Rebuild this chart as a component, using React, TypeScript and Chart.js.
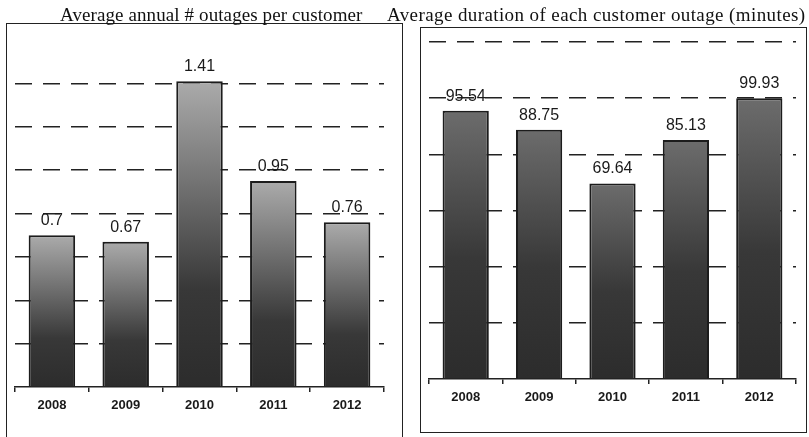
import React, { useEffect, useRef } from "react";
import { Chart, registerables } from "chart.js";

Chart.register(...registerables);

const categories = ["2008", "2009", "2010", "2011", "2012"];
const outagesPerCustomer = [0.7, 0.67, 1.41, 0.95, 0.76];
const outageDuration = [95.54, 88.75, 69.64, 85.13, 99.93];
const leftTitle = "Average annual # outages per customer";
const rightTitle = "Average duration of each customer outage (minutes)";

const valueLabelPlugin = {
  id: "valueLabels",
  afterDatasetsDraw(chart: any) {
    const ctx = chart.ctx;
    const meta = chart.getDatasetMeta(0);
    const data = chart.data.datasets[0].data as number[];
    ctx.save();
    ctx.font = "16px 'Liberation Sans', Arial, sans-serif";
    ctx.fillStyle = "#1a1a1a";
    ctx.textAlign = "center";
    ctx.textBaseline = "alphabetic";
    meta.data.forEach((bar: any, i: number) => {
      ctx.fillText(String(data[i]), bar.x, bar.y - 10);
    });
    ctx.restore();
  },
};

function makeChart(
  canvas: HTMLCanvasElement,
  values: number[],
  max: number,
  step: number,
  pad: { left: number; right: number; top: number },
  axisHeight: number,
  topColor: string,
  midStop: number,
  hideTopGrid: boolean
) {
  return new Chart(canvas, {
    type: "bar",
    data: {
      labels: categories,
      datasets: [
        {
          data: values,
          backgroundColor: (c: any) => {
            const chart = c.chart;
            if (!chart.chartArea) return "#444";
            const y = chart.scales.y;
            const top = y.getPixelForValue(c.raw as number);
            const base = y.getPixelForValue(0);
            const g = chart.ctx.createLinearGradient(0, top, 0, base);
            g.addColorStop(0, topColor);
            g.addColorStop(midStop, "#383838");
            g.addColorStop(1, "#2c2c2c");
            return g;
          },
          borderColor: "#1c1c1c",
          borderWidth: 2,
          borderSkipped: "start",
          barPercentage: 0.63,
          categoryPercentage: 1,
        },
      ],
    },
    options: {
      animation: false,
      responsive: false,
      maintainAspectRatio: false,
      layout: { padding: { left: pad.left, right: pad.right, top: pad.top, bottom: 0 } },
      plugins: {
        legend: { display: false },
        tooltip: { enabled: false },
        title: { display: false },
      },
      scales: {
        x: {
          offset: true,
          afterFit: (s: any) => {
            s.height = axisHeight;
          },
          grid: {
            offset: true,
            drawOnChartArea: false,
            drawTicks: true,
            tickLength: 5,
            color: "#222",
            lineWidth: 1.5,
          },
          border: { display: true, color: "#222", width: 1.5 },
          ticks: {
            color: "#1a1a1a",
            padding: 6,
            font: { family: "'Liberation Sans', Arial, sans-serif", size: 13, weight: "bold" },
          },
        },
        y: {
          min: 0,
          max: max,
          afterFit: (s: any) => {
            s.width = 0;
          },
          ticks: { display: false, stepSize: step },
          grid: {
            drawTicks: false,
            lineWidth: 1.4,
            color: (c: any) => {
              if (c.tick && c.tick.value === 0) return "rgba(0,0,0,0)";
              if (hideTopGrid && c.tick && Math.abs(c.tick.value - max) < 1e-6) return "rgba(0,0,0,0)";
              return "#222";
            },
          },
          border: { display: false, dash: [17, 11] },
        },
      },
    },
    plugins: [valueLabelPlugin],
  } as any);
}

export default function App() {
  const leftRef = useRef<HTMLCanvasElement>(null);
  const rightRef = useRef<HTMLCanvasElement>(null);

  useEffect(() => {
    document.body.style.margin = "0";
    const a = makeChart(leftRef.current!, outagesPerCustomer, 1.6, 0.2, { left: 15, right: 20, top: 40 }, 50, "#ababab", 0.68, true);
    const b = makeChart(rightRef.current!, outageDuration, 120, 20, { left: 24, right: 13, top: 42 }, 58, "#6c6c6c", 0.55, false);
    return () => {
      a.destroy();
      b.destroy();
    };
  }, []);

  const titleStyle: React.CSSProperties = {
    position: "absolute",
    top: 5,
    fontFamily: "'Liberation Serif', 'Times New Roman', serif",
    fontSize: 19,
    lineHeight: "19px",
    color: "#111",
    whiteSpace: "nowrap",
  };

  return (
    <div style={{ position: "relative", width: 809, height: 437, overflow: "hidden", background: "#fff" }}>
      <div style={{ position: "absolute", left: 6, top: 23, width: 395, height: 430, border: "1.5px solid #222" }} />
      <div style={{ position: "absolute", left: 420, top: 27, width: 385, height: 404, border: "1.5px solid #222" }} />
      <canvas ref={leftRef} width={404} height={437} style={{ position: "absolute", left: 0, top: 0, width: 404, height: 437 }} />
      <canvas ref={rightRef} width={404} height={437} style={{ position: "absolute", left: 405, top: 0, width: 404, height: 437 }} />
      <div style={{ ...titleStyle, left: 60, letterSpacing: "0.1px" }}>{leftTitle}</div>
      <div style={{ ...titleStyle, left: 387, letterSpacing: "0.4px" }}>{rightTitle}</div>
    </div>
  );
}
